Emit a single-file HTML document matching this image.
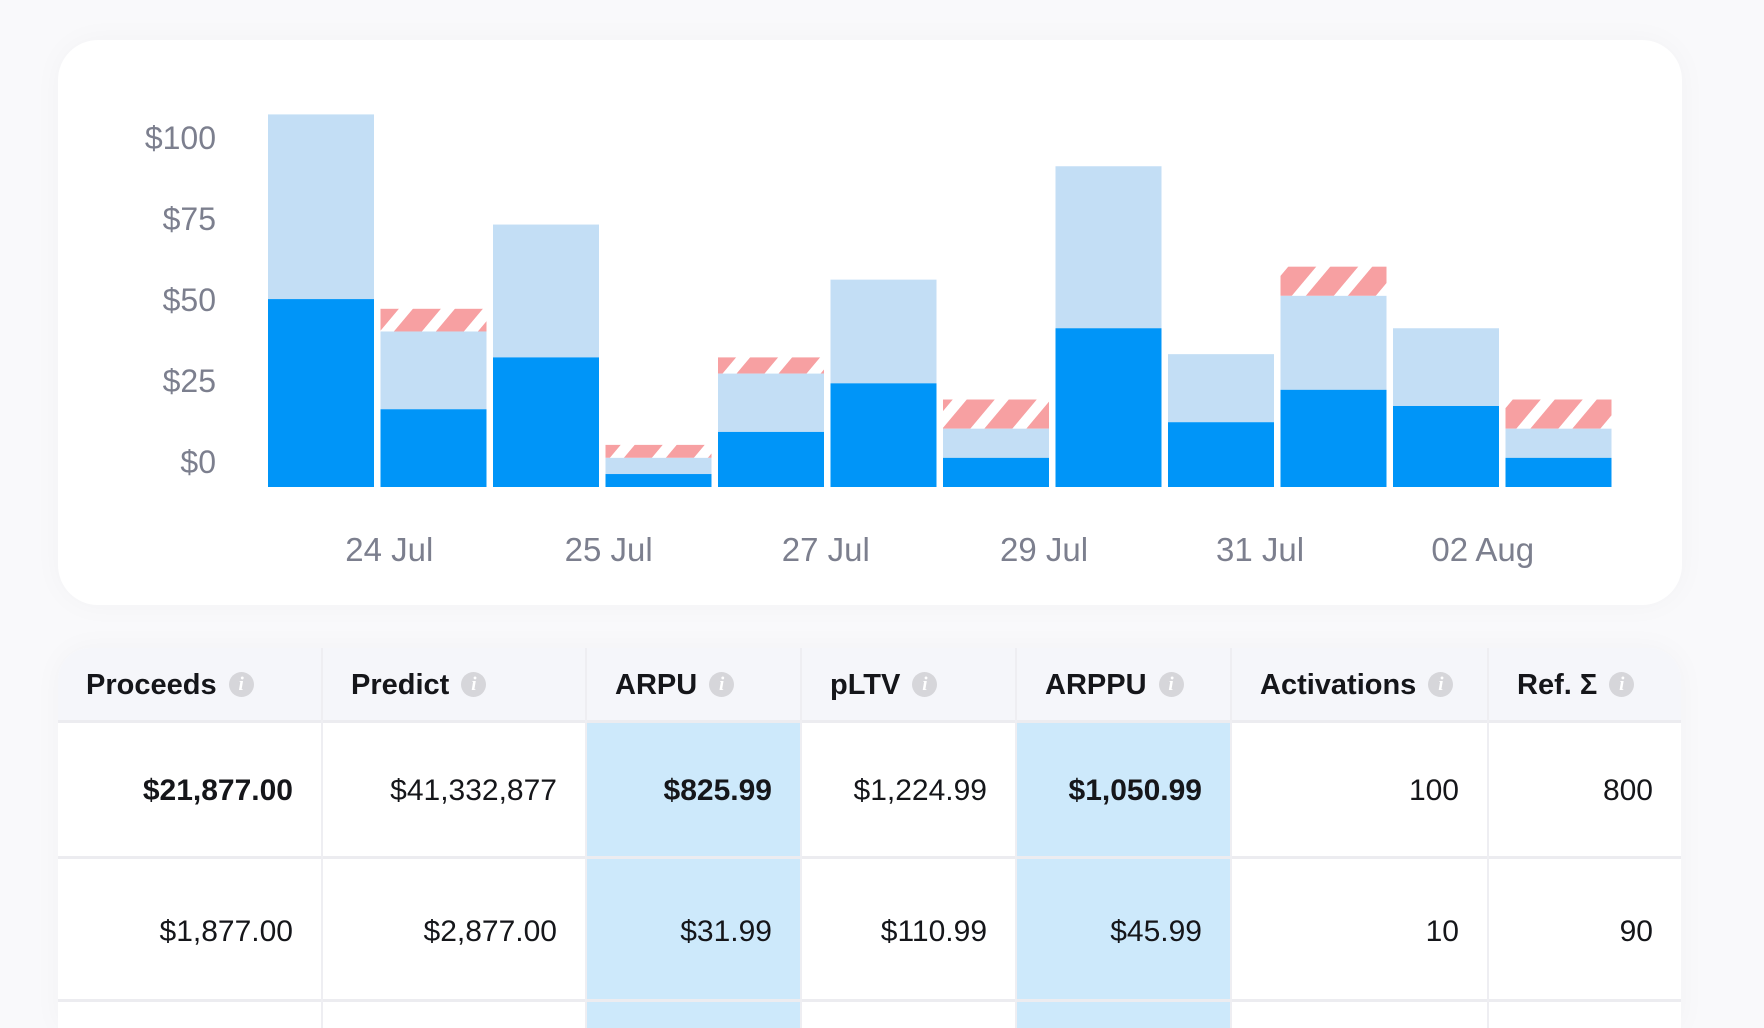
<!DOCTYPE html>
<html><head><meta charset="utf-8">
<style>
html,body{margin:0;padding:0;width:1764px;height:1020px;overflow:hidden;background:#f9f9fb;font-family:"Liberation Sans",sans-serif}
#card{position:absolute;left:58px;top:40px;width:1624px;height:565px;background:#fff;border-radius:40px;box-shadow:0 0 30px rgba(0,0,0,0.03)}
#chart{position:absolute;left:0;top:0}
#table{position:absolute;left:58px;top:648px;width:1623px;height:380px;background:#fff;border-radius:32px 32px 0 0;overflow:hidden;box-shadow:0 0 30px rgba(0,0,0,0.03)}
.col{position:absolute;top:0;height:380px;border-left:2px solid #eeeef2;box-sizing:border-box}
.hl{background:#cde9fb}
.hdr{position:absolute;left:0;top:0;height:75px;width:100%;background:#f5f6fa;border-bottom:3px solid #ececf0;box-sizing:border-box;font-weight:bold;font-size:29px;color:#15161a;line-height:75px;padding-left:28px;white-space:nowrap}
.info{display:inline-block;width:25px;height:25px;border-radius:13px;background:#d6d6da;color:#fff;font-size:19px;line-height:25px;text-align:center;font-style:italic;font-family:"Liberation Serif",serif;vertical-align:middle;margin-left:12px;margin-top:-4px}
.cell{position:absolute;left:0;width:100%;height:136px;box-sizing:border-box;border-bottom:3px solid #ececf0;text-align:right;padding-right:28px;font-size:30px;color:#15161a;line-height:136px}
.r1{top:75px}.r2{top:214px;height:140px;line-height:140px}
.b{font-weight:bold}
</style></head><body>
<div id="card">
<svg id="chart" width="1764" height="620" style="left:-58px;top:-40px;position:absolute">
<defs><pattern id="hatch" patternUnits="userSpaceOnUse" width="42" height="42" patternTransform="skewX(-40)">
<rect width="42" height="42" fill="#fff"/><rect width="28" height="42" fill="#f7a0a2"/></pattern></defs>
<g id="bars"></g><g id="yt"></g><g id="xt"></g>
</svg>
</div>
<div id="table"></div>
<script>
const categories=["23 Jul","24 Jul","25 Jul","26 Jul","27 Jul","28 Jul","29 Jul","30 Jul","31 Jul","01 Aug","02 Aug","03 Aug"];
const darkValues=[58,24,40,4,17,32,9,49,20,30,25,9];
const lightValues=[115,48,81,9,35,64,18,99,41,59,49,18];
const hatchValues=[0,55,0,13,40,0,27,0,0,68,0,27];
const yTicks=[0,25,50,75,100];
const yTickLabels=["$0","$25","$50","$75","$100"];
const xTickLabels=["24 Jul","25 Jul","27 Jul","29 Jul","31 Jul","02 Aug"];
const xTickIndex=[0.5,2.45,4.38,6.32,8.24,10.22];
const NS="http://www.w3.org/2000/svg";
const base=487,scale=3.24,x0=268,step=112.5,bw=106;
const y=v=>base-v*scale;
const x=i=>x0+i*step;
const gb=document.getElementById('bars');
function rect(i,v0,v1,fill,name){const r=document.createElementNS(NS,'rect');
r.setAttribute('x',x(i));r.setAttribute('width',bw);r.setAttribute('y',y(v1));r.setAttribute('height',Math.max(0,y(v0)-y(v1)));r.setAttribute('fill',fill);


gb.appendChild(r);}
categories.forEach((c,i)=>{
 if(hatchValues[i]>lightValues[i]) rect(i,lightValues[i],hatchValues[i],'url(#hatch)','bar-forecast-'+i);
 rect(i,darkValues[i],lightValues[i],'#c3def5','bar-light-'+i);
 rect(i,0,darkValues[i],'#0095f8','bar-dark-'+i);
});
const yt=document.getElementById('yt');
yTicks.forEach((t,k)=>{const e=document.createElementNS(NS,'text');
 e.setAttribute('x',216);e.setAttribute('y',y(t)-25+11);e.setAttribute('text-anchor','end');
 e.setAttribute('font-size','32');e.setAttribute('fill','#7c7f8e');e.textContent=yTickLabels[k];
 
 
 yt.appendChild(e);});
const xt=document.getElementById('xt');
xTickLabels.forEach((l,k)=>{const e=document.createElementNS(NS,'text');
 e.setAttribute('x',x(xTickIndex[k])+bw/2+12);e.setAttribute('y',561);e.setAttribute('text-anchor','middle');
 e.setAttribute('font-size','33');e.setAttribute('fill','#7c7f8e');e.textContent=l;
 
 
 xt.appendChild(e);});
const cols=[["Proceeds",0,263,"$21,877.00","$1,877.00",true,false],["Predict",263,264,"$41,332,877","$2,877.00",false,false],["ARPU",527,215,"$825.99","$31.99",true,true],["pLTV",742,215,"$1,224.99","$110.99",false,false],["ARPPU",957,215,"$1,050.99","$45.99",true,true],["Activations",1172,257,"100","10",false,false],["Ref. Σ",1429,194,"800","90",false,false]];
const tb=document.getElementById('table');
cols.forEach(c=>{const d=document.createElement('div');d.className='col'+(c[6]?' hl':'');
 d.style.left=c[1]+'px';d.style.width=c[2]+'px';if(c[1]===0)d.style.borderLeft='none';
 
 
 d.innerHTML='<div class="hdr">'+c[0]+'<span class="info">i</span></div>'+
 '<div class="cell r1'+(c[5]?' b':'')+'">'+c[3]+'</div>'+
 '<div class="cell r2">'+c[4]+'</div>';
 tb.appendChild(d);});
</script>
</body></html>
